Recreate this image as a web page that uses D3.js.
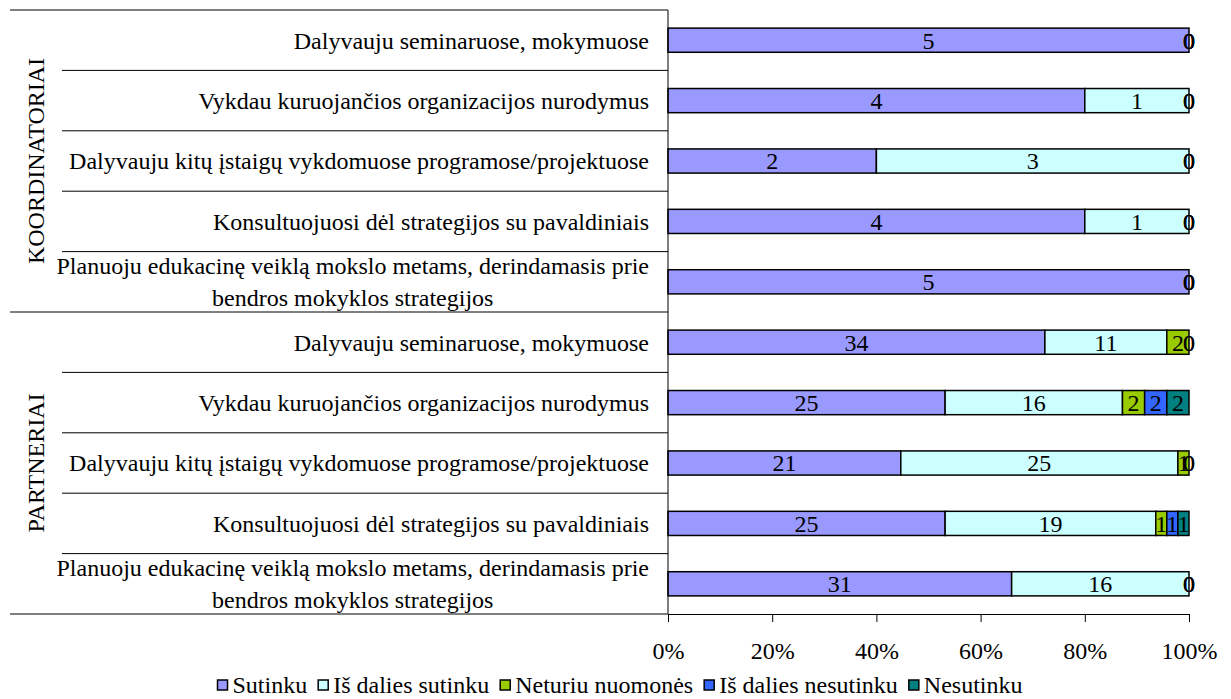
<!DOCTYPE html>
<html>
<head>
<meta charset="utf-8">
<script src="https://cdn.jsdelivr.net/npm/d3@7"></script>
<style>
  body { margin: 0; background: #fff; }
  svg text { font-family: "Liberation Serif", "Times New Roman", serif; fill: #000; }
</style>
</head>
<body>
<script>
// categories, top to bottom
const groupNames = ["KOORDINATORIAI", "PARTNERIAI"];
const itemLabels = [
    ["Dalyvauju seminaruose, mokymuose"],
    ["Vykdau kuruojančios organizacijos nurodymus"],
    ["Dalyvauju kitų įstaigų vykdomuose programose/projektuose"],
    ["Konsultuojuosi dėl strategijos su pavaldiniais"],
    ["Planuoju edukacinę veiklą mokslo metams, derindamasis prie", "bendros mokyklos strategijos"]
];
const seriesNames = ["Sutinku", "Iš dalies sutinku", "Neturiu nuomonės", "Iš dalies nesutinku", "Nesutinku"];
const seriesColors = ["#9999ff", "#ccffff", "#99cc00", "#3366ff", "#008080"];

// first 5 = koordinatoriai, last 5 = partneriai
const sutinku           = [5, 4, 2, 4, 5, 34, 25, 21, 25, 31];
const isDaliesSutinku   = [0, 1, 3, 1, 0, 11, 16, 25, 19, 16];
const neturiuNuomones   = [0, 0, 0, 0, 0, 2, 2, 1, 1, 0];
const isDaliesNesutinku = [0, 0, 0, 0, 0, 0, 2, 0, 1, 0];
const nesutinku         = [0, 0, 0, 0, 0, 0, 2, 0, 1, 0];

const tickValues = [0, 0.2, 0.4, 0.6, 0.8, 1];

var width = 1231, height = 699,
    plot = { left: 668, right: 1189, top: 10, bottom: 614 },
    labelRight = 649, innerLineX = 62, outerLineX = 10,
    fontSize = 24;

const seriesValues = [sutinku, isDaliesSutinku, neturiuNuomones, isDaliesNesutinku, nesutinku];
const rows = [];
groupNames.forEach((g, gi) => {
    itemLabels.forEach((lab, li) => {
        const idx = gi * itemLabels.length + li;
        const row = { idx: idx, group: g, label: lab };
        seriesNames.forEach((s, si) => row[s] = seriesValues[si][idx]);
        rows.push(row);
    });
});

var svg = d3.select("body").append("svg")
    .attr("width", width)
    .attr("height", height);

var x = d3.scaleLinear().domain([0, 1]).range([plot.left, plot.right]);
var y = d3.scaleBand()
    .domain(rows.map(d => d.idx))
    .range([plot.top, plot.bottom])
    .paddingInner(0.6)
    .paddingOuter(0.3);

var stacked = d3.stack().keys(seriesNames).offset(d3.stackOffsetExpand)(rows);

// bars
var layers = svg.selectAll(".layer")
    .data(stacked)
    .enter().append("g")
    .attr("class", "layer")
    .attr("fill", (d, i) => seriesColors[i]);

layers.selectAll("rect")
    .data(d => d)
    .enter().append("rect")
    .attr("x", d => x(d[0]))
    .attr("y", d => y(d.data.idx))
    .attr("width", d => x(d[1]) - x(d[0]))
    .attr("height", y.bandwidth())
    .attr("stroke", "#000")
    .attr("stroke-width", 1.5);

// value labels (zero values too, like the original)
stacked.forEach((layer, i) => {
    svg.append("g").selectAll("text")
        .data(layer)
        .enter().append("text")
        .attr("x", d => x((d[0] + d[1]) / 2))
        .attr("y", d => y(d.data.idx) + y.bandwidth() / 2)
        .attr("dy", "0.35em")
        .attr("text-anchor", "middle")
        .style("font-size", fontSize + "px")
        .text(d => d.data[seriesNames[i]]);
});

// x axis
var xAxis = d3.axisBottom(x)
    .tickValues(tickValues)
    .tickFormat(d3.format(".0%"))
    .tickSize(8)
    .tickSizeOuter(0)
    .tickPadding(20);

var gx = svg.append("g")
    .attr("transform", `translate(0,${plot.bottom})`)
    .call(xAxis);
gx.selectAll("text").style("font-size", fontSize + "px").attr("fill", "#000");
gx.selectAll("line, path").attr("stroke", "#000");

// vertical axis line
svg.append("line")
    .attr("x1", plot.left).attr("x2", plot.left)
    .attr("y1", plot.top).attr("y2", plot.bottom)
    .attr("stroke", "#000");

// category separators
var gap = (y.step() - y.bandwidth()) / 2;
var nPer = itemLabels.length;
d3.range(rows.length + 1).forEach(i => {
    var yy = i < rows.length ? y(i) - gap : plot.bottom;
    var isGroup = i % nPer === 0;
    svg.append("line")
        .attr("x1", isGroup ? outerLineX : innerLineX)
        .attr("x2", plot.left)
        .attr("y1", yy).attr("y2", yy)
        .attr("stroke", "#000");
});

// category labels
rows.forEach(d => {
    var cy = y(d.idx) + y.bandwidth() / 2;
    var lineH = 32;
    var g = svg.append("g");
    var texts = d.label.map((t, li) => g.append("text")
        .attr("y", cy + (li - (d.label.length - 1) / 2) * lineH)
        .attr("dy", "0.35em")
        .style("font-size", fontSize + "px")
        .text(t));
    var widths = texts.map(t => t.node().getComputedTextLength());
    var blockW = d3.max(widths);
    texts.forEach(t => t.attr("x", labelRight - blockW / 2).attr("text-anchor", "middle"));
});

// group labels
groupNames.forEach((g, gi) => {
    var y0 = y(gi * nPer) - gap;
    var y1 = gi === groupNames.length - 1 ? plot.bottom : y((gi + 1) * nPer) - gap;
    var cy = (y0 + y1) / 2;
    svg.append("text")
        .attr("transform", `translate(36,${cy}) rotate(-90)`)
        .attr("dy", "0.35em")
        .attr("text-anchor", "middle")
        .style("font-size", fontSize + "px")
        .text(g);
});

// legend
var legend = svg.append("g").attr("class", "legend");
var legendY = 686, box = 10, boxGap = 5, itemGap = 11;
var items = seriesNames.map((s, i) => {
    var it = legend.append("g");
    it.append("rect")
        .attr("y", legendY - box / 2 - 1)
        .attr("width", box).attr("height", box)
        .attr("fill", seriesColors[i])
        .attr("stroke", "#000").attr("stroke-width", 1.5);
    var t = it.append("text")
        .attr("x", box + boxGap)
        .attr("y", legendY)
        .attr("dy", "0.3em")
        .style("font-size", fontSize + "px")
        .text(s);
    return { g: it, w: box + boxGap + t.node().getComputedTextLength() };
});
var totalW = d3.sum(items, d => d.w) + itemGap * (items.length - 1);
var lx = 620 - totalW / 2;
items.forEach(d => {
    d.g.attr("transform", `translate(${lx},0)`);
    lx += d.w + itemGap;
});
</script>
</body>
</html>
